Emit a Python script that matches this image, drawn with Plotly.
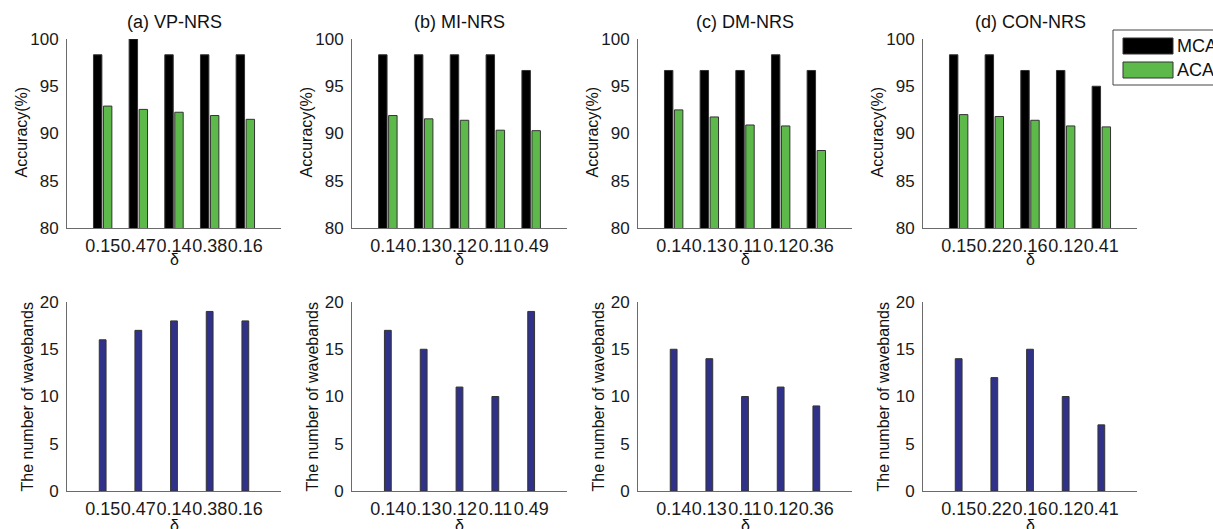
import plotly.graph_objects as go

W, H = 1213, 529

# panel titles and the delta values used on each x axis
titles = ["(a) VP-NRS", "(b) MI-NRS", "(c) DM-NRS", "(d) CON-NRS"]
delta_a = ["0.15", "0.47", "0.14", "0.38", "0.16"]
delta_b = ["0.14", "0.13", "0.12", "0.11", "0.49"]
delta_c = ["0.14", "0.13", "0.11", "0.12", "0.36"]
delta_d = ["0.15", "0.22", "0.16", "0.12", "0.41"]

# classification accuracy (%)
mca_a = [98.33, 100.0, 98.33, 98.33, 98.33]
aca_a = [92.9, 92.55, 92.25, 91.9, 91.5]
mca_b = [98.33, 98.33, 98.33, 98.33, 96.67]
aca_b = [91.9, 91.55, 91.4, 90.35, 90.3]
mca_c = [96.67, 96.67, 96.67, 98.33, 96.67]
aca_c = [92.5, 91.75, 90.9, 90.8, 88.2]
mca_d = [98.33, 98.33, 96.67, 96.67, 95.0]
aca_d = [92.0, 91.8, 91.4, 90.8, 90.7]

# number of selected wavebands
bands_a = [16, 17, 18, 19, 18]
bands_b = [17, 15, 11, 10, 19]
bands_c = [15, 14, 10, 11, 9]
bands_d = [14, 12, 15, 10, 7]

deltas = [delta_a, delta_b, delta_c, delta_d]
mcas = [mca_a, mca_b, mca_c, mca_d]
acas = [aca_a, aca_b, aca_c, aca_d]
bands = [bands_a, bands_b, bands_c, bands_d]

# plot-area geometry in pixels
col_left = [67, 352, 638, 923]
col_right = [281, 567, 852, 1137]
top_row = (39, 228)
bot_row = (302, 491)

BLACK = "#000000"
GREEN = "#5dba4a"
NAVY = "#30328a"
EDGE = "#333333"
AXIS = "#6b6b6b"
FONT = "Liberation Sans, Arial, sans-serif"


def px_x(v):
    return v / W


def px_y(v):
    return 1 - v / H


fig = go.Figure()
layout = dict(
    width=W, height=H,
    margin=dict(l=0, r=0, t=0, b=0, autoexpand=False),
    paper_bgcolor="white", plot_bgcolor="white",
    showlegend=False,
    barmode="overlay",
    font=dict(family=FONT, size=17, color="#1a1a1a"),
)
annotations = []
shapes = []

for i in range(4):
    top_n = 2 * i + 1
    bot_n = 2 * i + 2
    xd = [px_x(col_left[i]), px_x(col_right[i])]
    cx = (col_left[i] + col_right[i]) / 2

    for n, row, yr, yt in [
        (top_n, top_row, [80, 100], [80, 85, 90, 95, 100]),
        (bot_n, bot_row, [0, 20], [0, 5, 10, 15, 20]),
    ]:
        xk = "xaxis" if n == 1 else f"xaxis{n}"
        yk = "yaxis" if n == 1 else f"yaxis{n}"
        layout[xk] = dict(
            domain=xd, anchor=f"y{n}" if n > 1 else "y",
            type="category", range=[-1, 5], automargin=False,
            showline=True, linecolor=AXIS, linewidth=1,
            showgrid=False, zeroline=False, ticks="", tickangle=0,
            ticklabelstandoff=1,
            tickfont=dict(size=18, color="#1a1a1a"),
        )
        layout[yk] = dict(
            domain=[px_y(row[1]), px_y(row[0])],
            anchor=f"x{n}" if n > 1 else "x",
            range=yr, tickvals=yt, automargin=False,
            showline=True, linecolor=AXIS, linewidth=1,
            showgrid=False, zeroline=False, ticks="",
            ticklabelstandoff=4,
            tickfont=dict(size=17, color="#1a1a1a"),
        )

    xa_top = "x" if top_n == 1 else f"x{top_n}"
    ya_top = "y" if top_n == 1 else f"y{top_n}"
    xa_bot = f"x{bot_n}"
    ya_bot = f"y{bot_n}"

    fig.add_trace(go.Bar(
        x=deltas[i], y=mcas[i], base=0, name="MCA",
        offset=-0.258, width=0.236,
        marker=dict(color=BLACK, line=dict(color=EDGE, width=1)),
        xaxis=xa_top, yaxis=ya_top,
    ))
    fig.add_trace(go.Bar(
        x=deltas[i], y=acas[i], base=0, name="ACA",
        offset=0.022, width=0.236,
        marker=dict(color=GREEN, line=dict(color=EDGE, width=1)),
        xaxis=xa_top, yaxis=ya_top,
    ))
    fig.add_trace(go.Bar(
        x=deltas[i], y=bands[i], width=0.19,
        marker=dict(color=NAVY, line=dict(color=EDGE, width=1)),
        xaxis=xa_bot, yaxis=ya_bot,
    ))

    # panel title
    annotations.append(dict(
        text=titles[i], xref="paper", yref="paper",
        x=px_x(cx), y=px_y(22), xanchor="center", yanchor="middle",
        showarrow=False, font=dict(size=18, color="#111111"),
    ))
    # y-axis titles
    annotations.append(dict(
        text="Accuracy(%)", xref="paper", yref="paper",
        x=px_x(col_left[i] - 46), y=px_y((top_row[0] + top_row[1]) / 2 - 1),
        xanchor="center", yanchor="middle", textangle=-90,
        showarrow=False, font=dict(size=16, color="#111111"),
    ))
    annotations.append(dict(
        text="The number of wavebands", xref="paper", yref="paper",
        x=px_x(col_left[i] - 40), y=px_y((bot_row[0] + bot_row[1]) / 2 + 1),
        xanchor="center", yanchor="middle", textangle=-90,
        showarrow=False, font=dict(size=16, color="#111111"),
    ))
    # x-axis titles
    for yy in (259, 525):
        annotations.append(dict(
            text="δ", xref="paper", yref="paper",
            x=px_x(cx), y=px_y(yy), xanchor="center", yanchor="middle",
            showarrow=False, font=dict(size=16, color="#111111"),
        ))

# legend box for the accuracy panels
shapes.append(dict(
    type="rect", xref="paper", yref="paper",
    x0=px_x(1113), x1=px_x(1240), y0=px_y(85), y1=px_y(30),
    line=dict(color="#444444", width=1), fillcolor="white",
))
for label, color, y0, y1 in [("MCA", BLACK, 38, 54), ("ACA", GREEN, 62, 78)]:
    shapes.append(dict(
        type="rect", xref="paper", yref="paper",
        x0=px_x(1123), x1=px_x(1173), y0=px_y(y1), y1=px_y(y0),
        line=dict(color=EDGE, width=1), fillcolor=color,
    ))
    annotations.append(dict(
        text=label, xref="paper", yref="paper",
        x=px_x(1175), y=px_y((y0 + y1) / 2), xanchor="left", yanchor="middle",
        showarrow=False, font=dict(size=18, color="#111111"),
    ))

layout["annotations"] = annotations
layout["shapes"] = shapes
fig.update_layout(**layout)

fig.write_html("out.html")
